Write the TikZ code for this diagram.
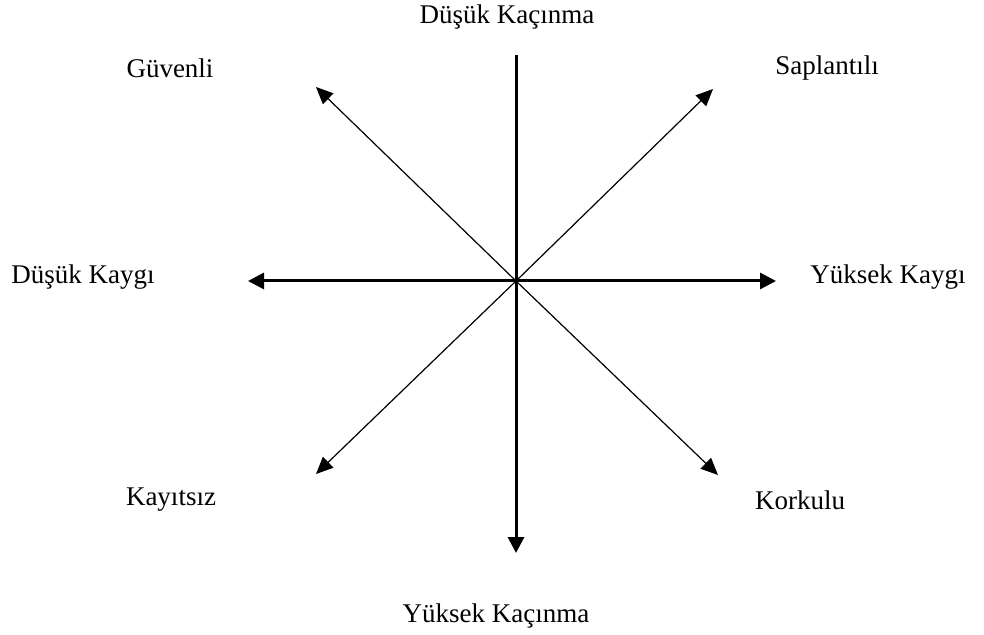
\documentclass[tikz,border=0pt]{standalone}
\usepackage{fontspec}
\setmainfont{Liberation Serif}
\usetikzlibrary{arrows.meta}

\tikzset{
  axis/.style={line width=1.5pt, -{Triangle[length=8pt,width=8pt]}},
  diag/.style={line width=0.6pt, -{Triangle[length=8.5pt,width=7.5pt]}},
  label/.style={font=\fontsize{13.5}{16}\selectfont, inner sep=0pt}
}

\begin{document}
\begin{tikzpicture}[x=0.5pt, y=-0.5pt]
  \useasboundingbox (0,0) rectangle (984,635);

  % Merkez ve uçlar
  \coordinate (o) at (516,281);
  \coordinate (top) at (516,55);
  \coordinate (bottom) at (516,553);
  \coordinate (left) at (248,281);
  \coordinate (right) at (776,281);
  \coordinate (ul) at (316,87);
  \coordinate (ur) at (713,89);
  \coordinate (ll) at (316,474);
  \coordinate (lr) at (718,475);

  % Eksenler
  \draw[axis] (top) -- (bottom);
  \draw[axis, {Triangle[length=8pt,width=8pt]}-{Triangle[length=8pt,width=8pt]}] (left) -- (right);

  % Çaprazlar
  \draw[diag] (o) -- (ul);
  \draw[diag] (o) -- (ur);
  \draw[diag] (o) -- (ll);
  \draw[diag] (o) -- (lr);

  % Etiketler
  \node[label] (dkac) at (507,17) {Düşük Kaçınma};
  \node[label] (ykac) at (496,616) {Yüksek Kaçınma};
  \node[label] (dkay) at (83,277) {Düşük Kaygı};
  \node[label] (ykay) at (888,277) {Yüksek Kaygı};
  \node[label] (guv) at (170,68) {Güvenli};
  \node[label] (sap) at (827,68) {Saplantılı};
  \node[label] (kay) at (171,500) {Kayıtsız};
  \node[label] (kor) at (800,500) {Korkulu};
\end{tikzpicture}
\end{document}
